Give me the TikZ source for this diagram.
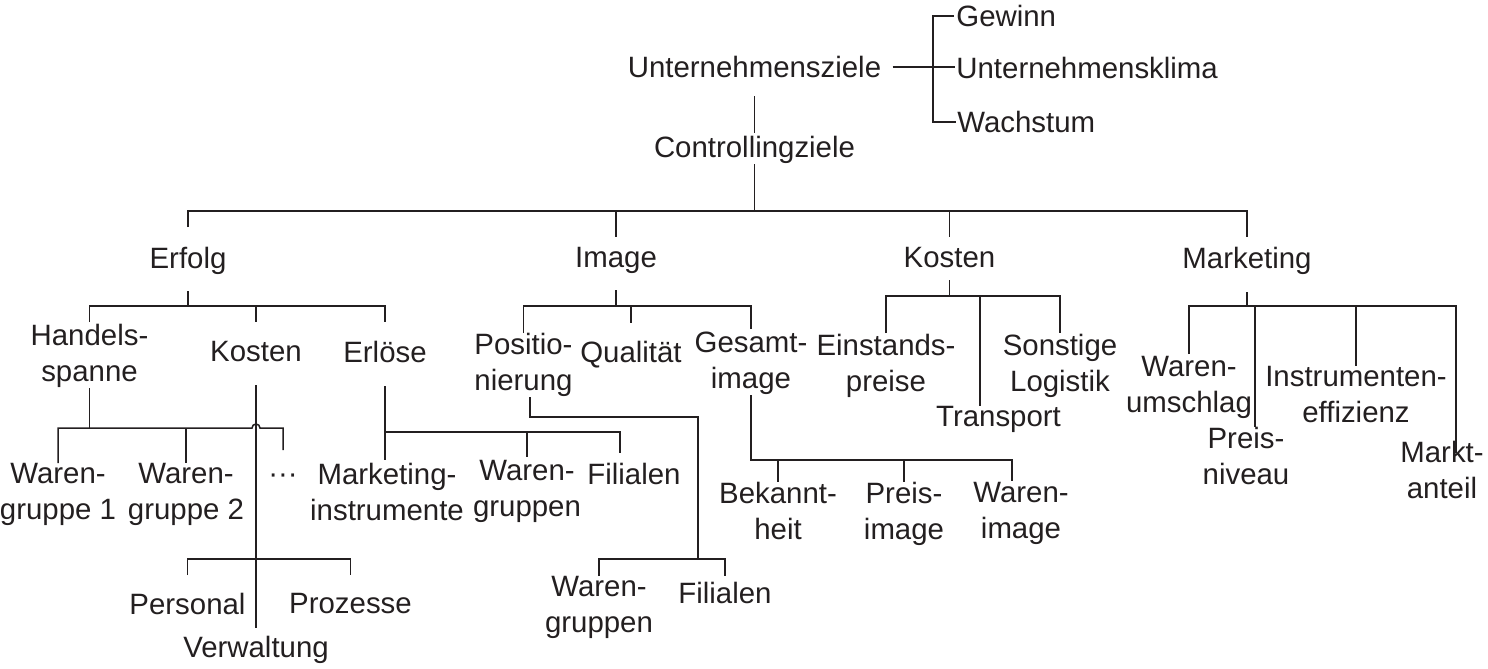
\documentclass[tikz,border=0pt]{standalone}
\usepackage{fontspec}
\setmainfont{Liberation Sans}
\usetikzlibrary{calc}
\definecolor{ink}{RGB}{35,31,32}
\begin{document}
\begin{tikzpicture}[x=0.5pt,y=-0.5pt,
  lbl/.style={inner sep=0pt, anchor=north, align=center, font=\fontsize{14.7pt}{18pt}\selectfont, text=ink},
  lw/.style={lbl, anchor=north west},
  ln/.style={line width=0.75pt, draw=ink}]
\useasboundingbox (0,0) rectangle (1488,669);
% top
\node[lbl] (unt) at (754.5,56) {Unternehmensziele};
\node[lw] (gew) at (956,5) {Gewinn};
\node[lw] (klima) at (956,57) {Unternehmensklima};
\node[lw] (wach) at (957,111) {Wachstum};
\node[lbl] (ctrl) at (754.5,136) {Controllingziele};
% level 1
\node[lbl] (erfolg) at (188,247) {Erfolg};
\node[lbl] (image) at (616,247) {Image};
\node[lbl] (kosten1) at (949.5,247) {Kosten};
\node[lbl] (mkt) at (1247,247) {Marketing};
% Erfolg subtree
\node[lbl] (hs) at (89.5,324) {Handels-\\spanne};
\node[lbl] (ek) at (256,341) {Kosten};
\node[lbl] (erl) at (385,341) {Erlöse};
\node[lbl] (wg1) at (58,463) {Waren-\\gruppe 1};
\node[lbl] (wg2) at (186,463) {Waren-\\gruppe 2};
\node[lbl, anchor=base] (dots) at (283,483) {···};
\node[lbl] (pers) at (187.5,593) {Personal};
\node[lbl] (proz) at (350.5,593) {Prozesse};
\node[lbl] (verw) at (256,636) {Verwaltung};
\node[lbl] (mi) at (387,463) {Marketing-\\instrumente};
\node[lbl] (ewg) at (527,460) {Waren-\\gruppen};
\node[lbl] (efil) at (634,463) {Filialen};
% Image subtree
\node[lbl] (pos) at (523.5,333) {Positio-\\nierung};
\node[lbl] (qual) at (631,341) {Qualität};
\node[lbl] (gi) at (751,332) {Gesamt-\\image};
\node[lbl] (pwg) at (599,576) {Waren-\\gruppen};
\node[lbl] (pfil) at (725,582) {Filialen};
\node[lbl] (bek) at (778,482) {Bekannt-\\heit};
\node[lbl] (pim) at (904,482) {Preis-\\image};
\node[lbl] (wim) at (1021,482) {Waren-\\image};
% Kosten subtree
\node[lbl] (ein) at (886,334) {Einstands-\\preise};
\node[lbl] (son) at (1060,334) {Sonstige\\Logistik};
\node[lbl] (tra) at (998.5,406) {Transport};
% Marketing subtree
\node[lbl] (wu) at (1189,356) {Waren-\\umschlag};
\node[lbl] (pn) at (1246,427) {Preis-\\niveau};
\node[lbl] (ie) at (1356,366) {Instrumenten-\\effizienz};
\node[lbl] (ma) at (1442,441) {Markt-\\anteil};
% junction coordinates
\coordinate (bk) at (933,68);
\coordinate (b1) at (754.5,211);
\coordinate (b2) at (188,306);
\coordinate (b3) at (89.5,428);
\coordinate (b4) at (256,559);
\coordinate (b5) at (385,432);
\coordinate (b5r) at (620,432);
\coordinate (b6) at (616,306);
\coordinate (p1) at (530,417);
\coordinate (p2) at (698,559);
\coordinate (g1) at (751,460);
\coordinate (g1r) at (1012,460);
\coordinate (b7) at (949.5,296);
\coordinate (b7t) at (980,296);
\coordinate (b8) at (1247,306);
\coordinate (b8p) at (1255,306);
\coordinate (b8r) at (1456,306);
% top connectors
\draw[ln, shorten <=5.5pt, shorten >=0.5pt] (unt.east) -- (unt.east -| klima.west);
\draw[ln, shorten <=1pt, shorten >=0.5pt] (gew.west) -- (gew.west -| bk) -- (wach.west -| bk) -- (wach.west);
\draw[ln, shorten <=9pt, shorten >=1.5pt] (unt.south) -- (ctrl.north);
\draw[ln] (ctrl.south) -- (b1);
\draw[ln, shorten <=10pt, shorten >=5pt] (erfolg.north) -- (erfolg.north |- b1) -- (mkt.north |- b1) -- (mkt.north);
\draw[ln, shorten >=5pt] (image.north |- b1) -- (image.north);
\draw[ln, shorten >=5pt] (kosten1.north |- b1) -- (kosten1.north);
% Erfolg
\draw[ln, shorten <=8pt] (erfolg.south) -- (b2);
\draw[ln, shorten <=1pt, shorten >=9.5pt] (hs.north) -- (hs.north |- b2) -- (erl.north |- b2) -- (erl.north);
\draw[ln, shorten >=9.5pt] (ek.north |- b2) -- (ek.north);
\draw[ln] (hs.south) -- (b3);
\draw[ln, shorten >=11.5pt] (wg1.north) -- (wg1.north |- b3) -- ($(ek.south |- b3)+(-4,0)$) arc[start angle=180, end angle=0, radius=2pt] -- (dots.north |- b3) -- (dots.north);
\draw[ln] (wg2.north |- b3) -- (wg2.north);
\draw[ln, shorten <=11.5pt, shorten >=4pt] (ek.south) -- (verw.north);
\draw[ln, shorten <=9pt, shorten >=9pt] (pers.north) -- (pers.north |- b4) -- (proz.north |- b4) -- (proz.north);
\draw[ln, shorten <=11.5pt, shorten >=5pt] (erl.south) -- (b5) -- (b5r) -- (b5r |- efil.north);
\draw[ln, shorten >=1.5pt] (b5) -- (b5 |- mi.north);
\draw[ln, shorten >=1.5pt] (ewg.north |- b5) -- (ewg.north);
% Image
\draw[ln, shorten <=8pt] (image.south) -- (b6);
\draw[ln, shorten >=1.5pt] (pos.north) -- (pos.north |- b6) -- (gi.north |- b6) -- (gi.north);
\draw[ln, shorten >=9pt] (qual.north |- b6) -- (qual.north);
\draw[ln] (pos.south -| p1) -- (p1) -- (p1 -| p2) -- (p2);
\draw[ln, shorten >=3pt] (pwg.north) -- (pwg.north |- p2) -- (pfil.north |- p2) -- (pfil.north);
\draw[ln, shorten >=0.5pt] (gi.south) -- (g1) -- (g1r) -- (g1r |- wim.north);
\draw[ln] (bek.north |- g1) -- (bek.north);
\draw[ln] (pim.north |- g1) -- (pim.north);
% Kosten
\draw[ln, shorten <=6pt] (kosten1.south) -- (b7);
\draw[ln, shorten <=0.5pt, shorten >=0.5pt] (ein.north) -- (ein.north |- b7) -- (son.north |- b7) -- (son.north);
\draw[ln] (b7t) -- (b7t |- tra.north);
% Marketing
\draw[ln, shorten <=8.5pt] (mkt.south) -- (b8);
\draw[ln, shorten <=1pt, shorten >=-6pt] (wu.north) -- (wu.north |- b8) -- (b8r) -- (b8r |- ma.north);
\draw[ln] (b8p) -- (b8p |- pn.north);
\draw[ln] (ie.north |- b8) -- (ie.north);
\end{tikzpicture}
\end{document}
